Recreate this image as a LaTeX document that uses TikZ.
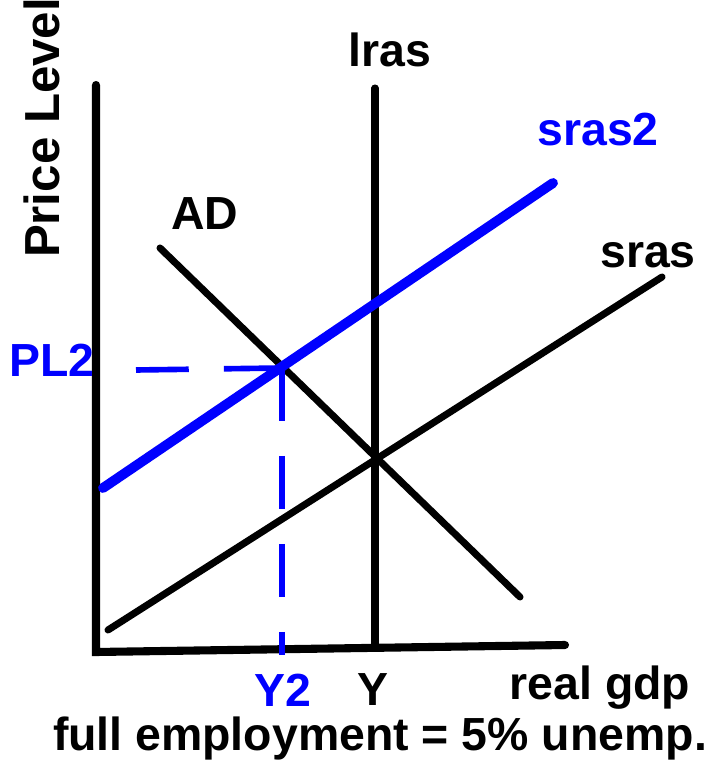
\documentclass[tikz,border=0pt]{standalone}
\usepackage{fontspec}
\setmainfont{Liberation Sans}
\begin{document}
\begin{tikzpicture}[x=0.01cm, y=-0.01cm, font=\bfseries\fontsize{13.2}{15}\selectfont]
      \tikzset{axis/.style={line width=2.3pt, line cap=round},
        curve/.style={line width=2pt, line cap=round},
        shifted/.style={blue, line width=2.8pt, line cap=round},
        guide/.style={blue, line width=1.6pt, dash pattern=on 15pt off 10pt},
        lbl/.style={inner sep=0pt},
        bluelbl/.style={lbl, text=blue}}
      \useasboundingbox (0,0) rectangle (712,762);
      % axes
      \coordinate (top) at (96,85);
      \coordinate (origin) at (96,652);
      \coordinate (right) at (565,645);
      \draw[axis] (top) -- (origin) -- (right);
      % curves
      \coordinate (lrasTop) at (375,88);
      \coordinate (lrasBot) at (375,647);
      \coordinate (adTop) at (160,248);
      \coordinate (adBot) at (520,597);
      \coordinate (srasBot) at (108,630);
      \coordinate (srasTop) at (662,277);
      \coordinate (sras2Bot) at (103,488);
      \coordinate (sras2Top) at (553,183);
      \draw[curve] (lrasTop) -- (lrasBot);
      \draw[curve] (adTop) -- (adBot);
      \draw[curve] (srasBot) -- (srasTop);
      \draw[shifted] (sras2Bot) -- (sras2Top);
      % new equilibrium
      \coordinate (eq2) at (282,368);
      \coordinate (pl2end) at (136,370);
      \coordinate (y2end) at (282,655);
      \draw[guide] (pl2end) -- (eq2);
      \draw[guide] (eq2) -- (y2end);
      % labels
      \node[lbl, rotate=90] (price) at (42,128) {\fontsize{14}{16}\selectfont Price Level};
      \node[lbl] (lras) at (390,50) {lras};
      \node[bluelbl] (sras2) at (598,130) {sras2};
      \node[lbl] (ad) at (205,214) {AD};
      \node[lbl] (sras) at (648,255) {sras};
      \node[bluelbl] (pl2) at (52,360) {PL2};
      \node[bluelbl] (y2) at (283,690) {Y2};
      \node[lbl] (y) at (373,690) {Y};
      \node[lbl] (gdp) at (600,688) {real gdp};
      \node[lbl] (fe) at (380,738) {full employment = 5\% unemp.};
    \end{tikzpicture}
\end{document}
